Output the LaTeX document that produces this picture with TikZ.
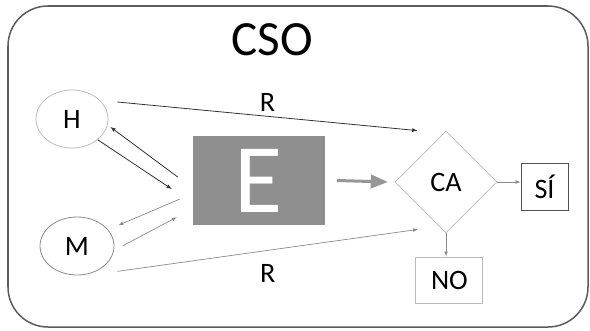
\documentclass[tikz,border=0pt]{standalone}
\usepackage{fontspec}
\setmainfont{Carlito}
\usepackage{tikz}
\usetikzlibrary{arrows,calc,shapes.geometric}
\definecolor{darkline}{HTML}{333333}
\definecolor{midline}{HTML}{8A8A8A}
\definecolor{lightline}{HTML}{BBBBBB}
\definecolor{boxfill}{HTML}{8F8F8F}

\begin{document}
\begin{tikzpicture}[
  label font/.style={font=\fontsize{28}{28}\selectfont},
  person/.style={ellipse,draw,line width=0.8pt,inner sep=0pt,label font},
  darkarrow/.style={darkline,line width=0.8pt,-latex},
  grayarrow/.style={midline,line width=0.7pt,-latex}
]
\useasboundingbox (0cm,0cm) rectangle (20.65cm,-11.55cm);
\draw[darkline!80, line width=1.5pt, rounded corners=1.4cm] (0.28cm,-0.21cm) rectangle (20.58cm,-11.445cm);
\node (title) at (9.52cm,-1.40cm) {\fontsize{49}{49}\selectfont CSO};
\node[person, draw=lightline, minimum width=2.52cm, minimum height=2.03cm] (H) at (2.52cm,-4.165cm) {H};
\node[person, draw=midline, minimum width=2.59cm, minimum height=2.03cm] (M) at (2.695cm,-8.61cm) {M};
\node[fill=boxfill, minimum width=4.62cm, minimum height=3.115cm, inner sep=0pt, text=white] (E) at (9.065cm,-6.3175cm) {\fontsize{98}{98}\selectfont E};
\node[diamond, draw=lightline, line width=0.8pt, minimum size=3.57cm, inner sep=0pt, label font] (CA) at (15.61cm,-6.37cm) {CA};
\node[draw=darkline!85, line width=1pt, minimum width=1.645cm, minimum height=1.645cm, inner sep=0pt, label font] (SI) at (19.06cm,-6.53cm) {SÍ};
\node[draw=lightline, line width=1pt, minimum width=2.345cm, minimum height=1.61cm, inner sep=0pt, label font] (NO) at (15.73cm,-9.8cm) {NO};

\draw[darkarrow] ([shift={(0.315cm,0.595cm)}]H.east) -- node[above=2pt, inner sep=2pt, label font, black] {R} ([shift={(-1.0cm,0cm)}]CA.north);
\draw[darkarrow] ([shift={(-0.525cm,0.12cm)}]E.west) -- ([shift={(0.07cm,-0.28cm)}]H.east);
\draw[darkarrow] (H.south east) -- ([shift={(-0.735cm,-0.3cm)}]E.west);
\draw[grayarrow] ([shift={(-0.455cm,-0.65cm)}]E.west) -- ([shift={(0.525cm,0cm)}]M.north east);
\draw[grayarrow] ([shift={(0.28cm,0cm)}]M.east) -- ([shift={(-0.56cm,0.28cm)}]E.south west);
\draw[grayarrow] ([shift={(0.49cm,-0.16cm)}]M.south east) -- node[below=12pt, inner sep=2pt, label font, black] {R} ([shift={(-0.98cm,0.14cm)}]CA.south);
\draw[midline!90, line width=3pt, -triangle 45] ([xshift=0.42cm]E.east) -- ([xshift=-0.245cm]CA.west);
\draw[grayarrow] (CA.east) -- (CA.east -| SI.west);
\draw[grayarrow] (CA.south) -- (CA.south |- NO.north);
\end{tikzpicture}
\end{document}
